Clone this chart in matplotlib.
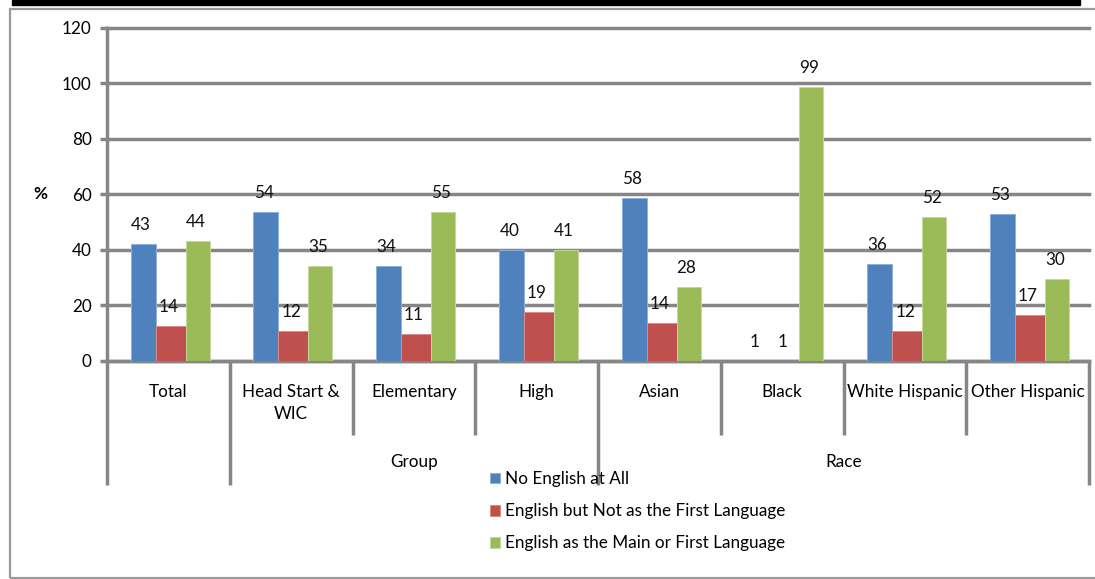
import matplotlib
matplotlib.use('Agg')
import matplotlib.pyplot as plt
from matplotlib.patches import Rectangle
import numpy as np

plt.rcParams['font.family'] = ['Lato', 'DejaVu Sans']

categories = ['Total', 'Head Start &\nWIC', 'Elementary', 'High',
              'Asian', 'Black', 'White Hispanic', 'Other Hispanic']
series = ['No English at All',
          'English but Not as the First Language',
          'English as the Main or First Language']

# bar heights as drawn
no_english = [42, 53.6, 34, 40, 58.7, 0, 35, 52.8]
english_not_first = [12.6, 10.6, 9.8, 17.6, 13.7, 0, 10.7, 16.5]
english_main = [43, 34, 53.6, 40, 26.4, 98.6, 51.8, 29.3]

# data labels as printed
no_english_lbl = [43, 54, 34, 40, 58, 1, 36, 53]
english_not_first_lbl = [14, 12, 11, 19, 14, 1, 12, 17]
english_main_lbl = [44, 35, 55, 41, 28, 99, 52, 30]

groups = ['Group', 'Race']
group_span = [(1, 4), (4, 8)]

colors = ['#4F81BD', '#C0504D', '#9BBB59']
edges = ['#8DB0DA', '#DA8B89', '#C3D89B']
grey = '#868686'
fs = 12.3

W, H = 1095, 579
fig = plt.figure(figsize=(W / 100, H / 100), dpi=100)

def fx(px):
    return px / W

def fy(py):
    return 1 - py / H

# outer chart frame and the cut-off black rule above it
fig.patches.append(Rectangle((fx(10), fy(578)), fx(1100) - fx(10), fy(9) - fy(578),
                             transform=fig.transFigure, fill=False,
                             edgecolor='#9a9a9a', lw=1.6))
fig.patches.append(Rectangle((fx(12), fy(5)), fx(1080) - fx(12), fy(0) - fy(5),
                             transform=fig.transFigure, color='black'))

y0, y120 = 360.8, 27.5
ax = fig.add_axes([fx(107), fy(y0), fx(1089) - fx(107), fy(y120) - fy(y0)])

x = np.arange(len(categories))
offsets = [0.294, 0.518, 0.738]
widths = [0.204, 0.244, 0.196]
values = [no_english, english_not_first, english_main]
labels = [no_english_lbl, english_not_first_lbl, english_main_lbl]

handles = []
for i in range(3):
    bars = ax.bar(x + offsets[i], values[i], widths[i], color=colors[i],
                  edgecolor=edges[i], linewidth=0.7, label=series[i], zorder=3)
    handles.append(bars)
    for xi, h, lab in zip(x + offsets[i], values[i], labels[i]):
        ax.annotate(str(lab), xy=(xi, h), xytext=(-2, 19), textcoords='offset pixels',
                    ha='center', va='center', fontsize=fs, color='#111111')

ax.set_xlim(0, len(categories))
ax.set_ylim(0, 120)
ax.set_yticks(range(0, 121, 20))
ax.yaxis.grid(True, color=grey, lw=2.5)
for gl in ax.get_ygridlines():
    gl.set_clip_on(False)
ax.set_axisbelow(True)
ax.tick_params(axis='y', direction='out', length=5, width=2.5, color=grey,
               pad=6, labelsize=fs)

ax.set_xticks(x + 0.5, categories)
ax.tick_params(axis='x', length=0, pad=16.5, labelsize=fs)
for t in ax.get_xticklabels():
    t.set_linespacing(1.45)

for s in ['top', 'right']:
    ax.spines[s].set_visible(False)
for s in ['left', 'bottom']:
    ax.spines[s].set_color(grey)
    ax.spines[s].set_linewidth(2.5)

# category separators under the axis
tr = ax.get_xaxis_transform()
ax.vlines([2, 3, 5, 6, 7], -0.222, 0, transform=tr, colors=grey, lw=2.5, clip_on=False)
ax.vlines([0, 1, 4, 8], -0.372, 0, transform=tr, colors=grey, lw=2.5, clip_on=False)

for g, (a, b) in zip(groups, group_span):
    ax.text((a + b) / 2, -0.3036, g, transform=tr, ha='center', va='center',
            fontsize=fs)

ax.text(fx(40), fy(194), '%', transform=fig.transFigure, ha='center', va='center',
        fontsize=fs, fontweight='bold')

fig.legend(handles=handles, labels=series, loc='upper left',
           bbox_to_anchor=(fx(490), fy(471)), frameon=False, fontsize=fs,
           handlelength=0.6, handleheight=0.6, handletextpad=0.3,
           labelspacing=0.95, borderpad=0, borderaxespad=0)

fig.savefig('out.png', dpi=100)
